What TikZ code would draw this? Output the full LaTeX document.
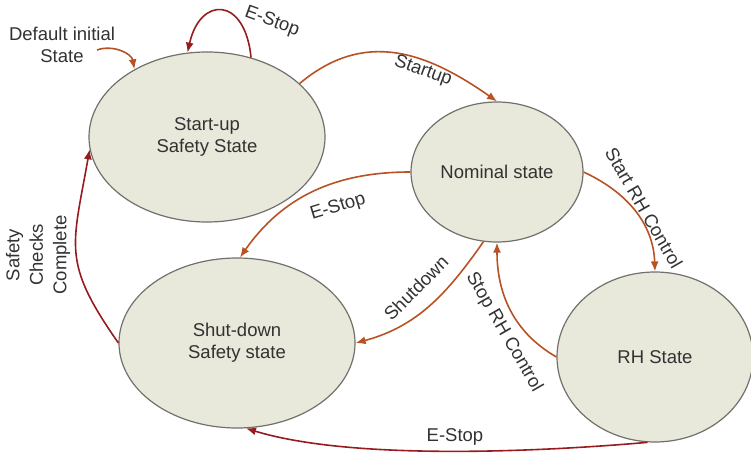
\documentclass[tikz,border=0pt]{standalone}
\usepackage{fontspec}
\setmainfont{Liberation Sans}
\usepackage{tikz}
\usetikzlibrary{shapes,arrows.meta}
\definecolor{statefill}{RGB}{232,232,219}
\definecolor{stateline}{RGB}{112,112,108}
\definecolor{rust}{RGB}{184,82,36}
\definecolor{estop}{RGB}{150,28,32}
\definecolor{ink}{RGB}{50,50,50}
\tikzstyle{state} = [ellipse, draw=stateline, line width=1.2pt, fill=statefill,
    inner sep=0pt, align=center, text=ink]
\tikzstyle{big state} = [state, minimum width=236pt, minimum height=170pt]
\tikzstyle{line} = [draw=rust, line width=1.6pt, -{Latex[length=10pt,width=8pt]}]
\tikzstyle{stopline} = [line, draw=estop]
\tikzstyle{comment} = [text=ink, align=center, inner sep=0pt]

\begin{document}
\begin{tikzpicture}[x=1pt, y=1pt, font=\fontsize{18.5}{22}\selectfont]
  \useasboundingbox (0,0) rectangle (751,458);
  % Place nodes
  \node [big state] (startup) at (207,321) {Start-up\\Safety State};
  \node [state, minimum width=172pt, minimum height=140pt] (nominal) at (497,286) {Nominal state};
  \node [state, minimum width=196pt, minimum height=170pt] (rh) at (655,101) {RH State};
  \node [big state] (shutdown) at (237,115) {Shut-down\\Safety state};
  \node [comment] (init) at (62,413) {Default initial\\State};
  \coordinate (initfrom) at (97,408);

  % Draw edges
  \path [line] (initfrom) to [out=20, in=100] (startup.137);
  \path [stopline] (startup.61) .. controls (245,462) and (200,462) .. (startup.103);
  \path [line] (startup.30) to [out=40, in=145, looseness=1.1] (nominal.90);
  \path [line] (nominal.180) to [out=180, in=55] (shutdown.88);
  \path [line] (nominal.0) to [out=-25, in=92] (rh.90);
  \path [line] (nominal.259) to [out=235, in=15] (shutdown.0);
  \path [line] (rh.180) to [out=150, in=-90] (nominal.270);
  \path [stopline] (shutdown.180) to [out=125, in=-100, looseness=1.3] (startup.186);
  \path [stopline] (rh.265) to [out=185, in=-17, looseness=0.7] (shutdown.276);

  % Comments
  \node [comment, rotate=-20] (c1) at (272,436) {E-Stop};
  \node [comment, rotate=-20] (c2) at (423,387) {Startup};
  \node [comment, rotate=17] (c3) at (338,251) {E-Stop};
  \node [comment, rotate=-60] (c4) at (644,250) {Start RH Control};
  \node [comment, rotate=45] (c5) at (416,170) {Shutdown};
  \node [comment, rotate=-60] (c6) at (504,126) {Stop RH Control};
  \node [comment] (c7) at (455,21) {E-Stop};
  \node [comment, rotate=90, font=\fontsize{18.5}{23.5}\selectfont] (c8) at (38,203) {Safety\\Checks\\Complete};
\end{tikzpicture}
\end{document}
